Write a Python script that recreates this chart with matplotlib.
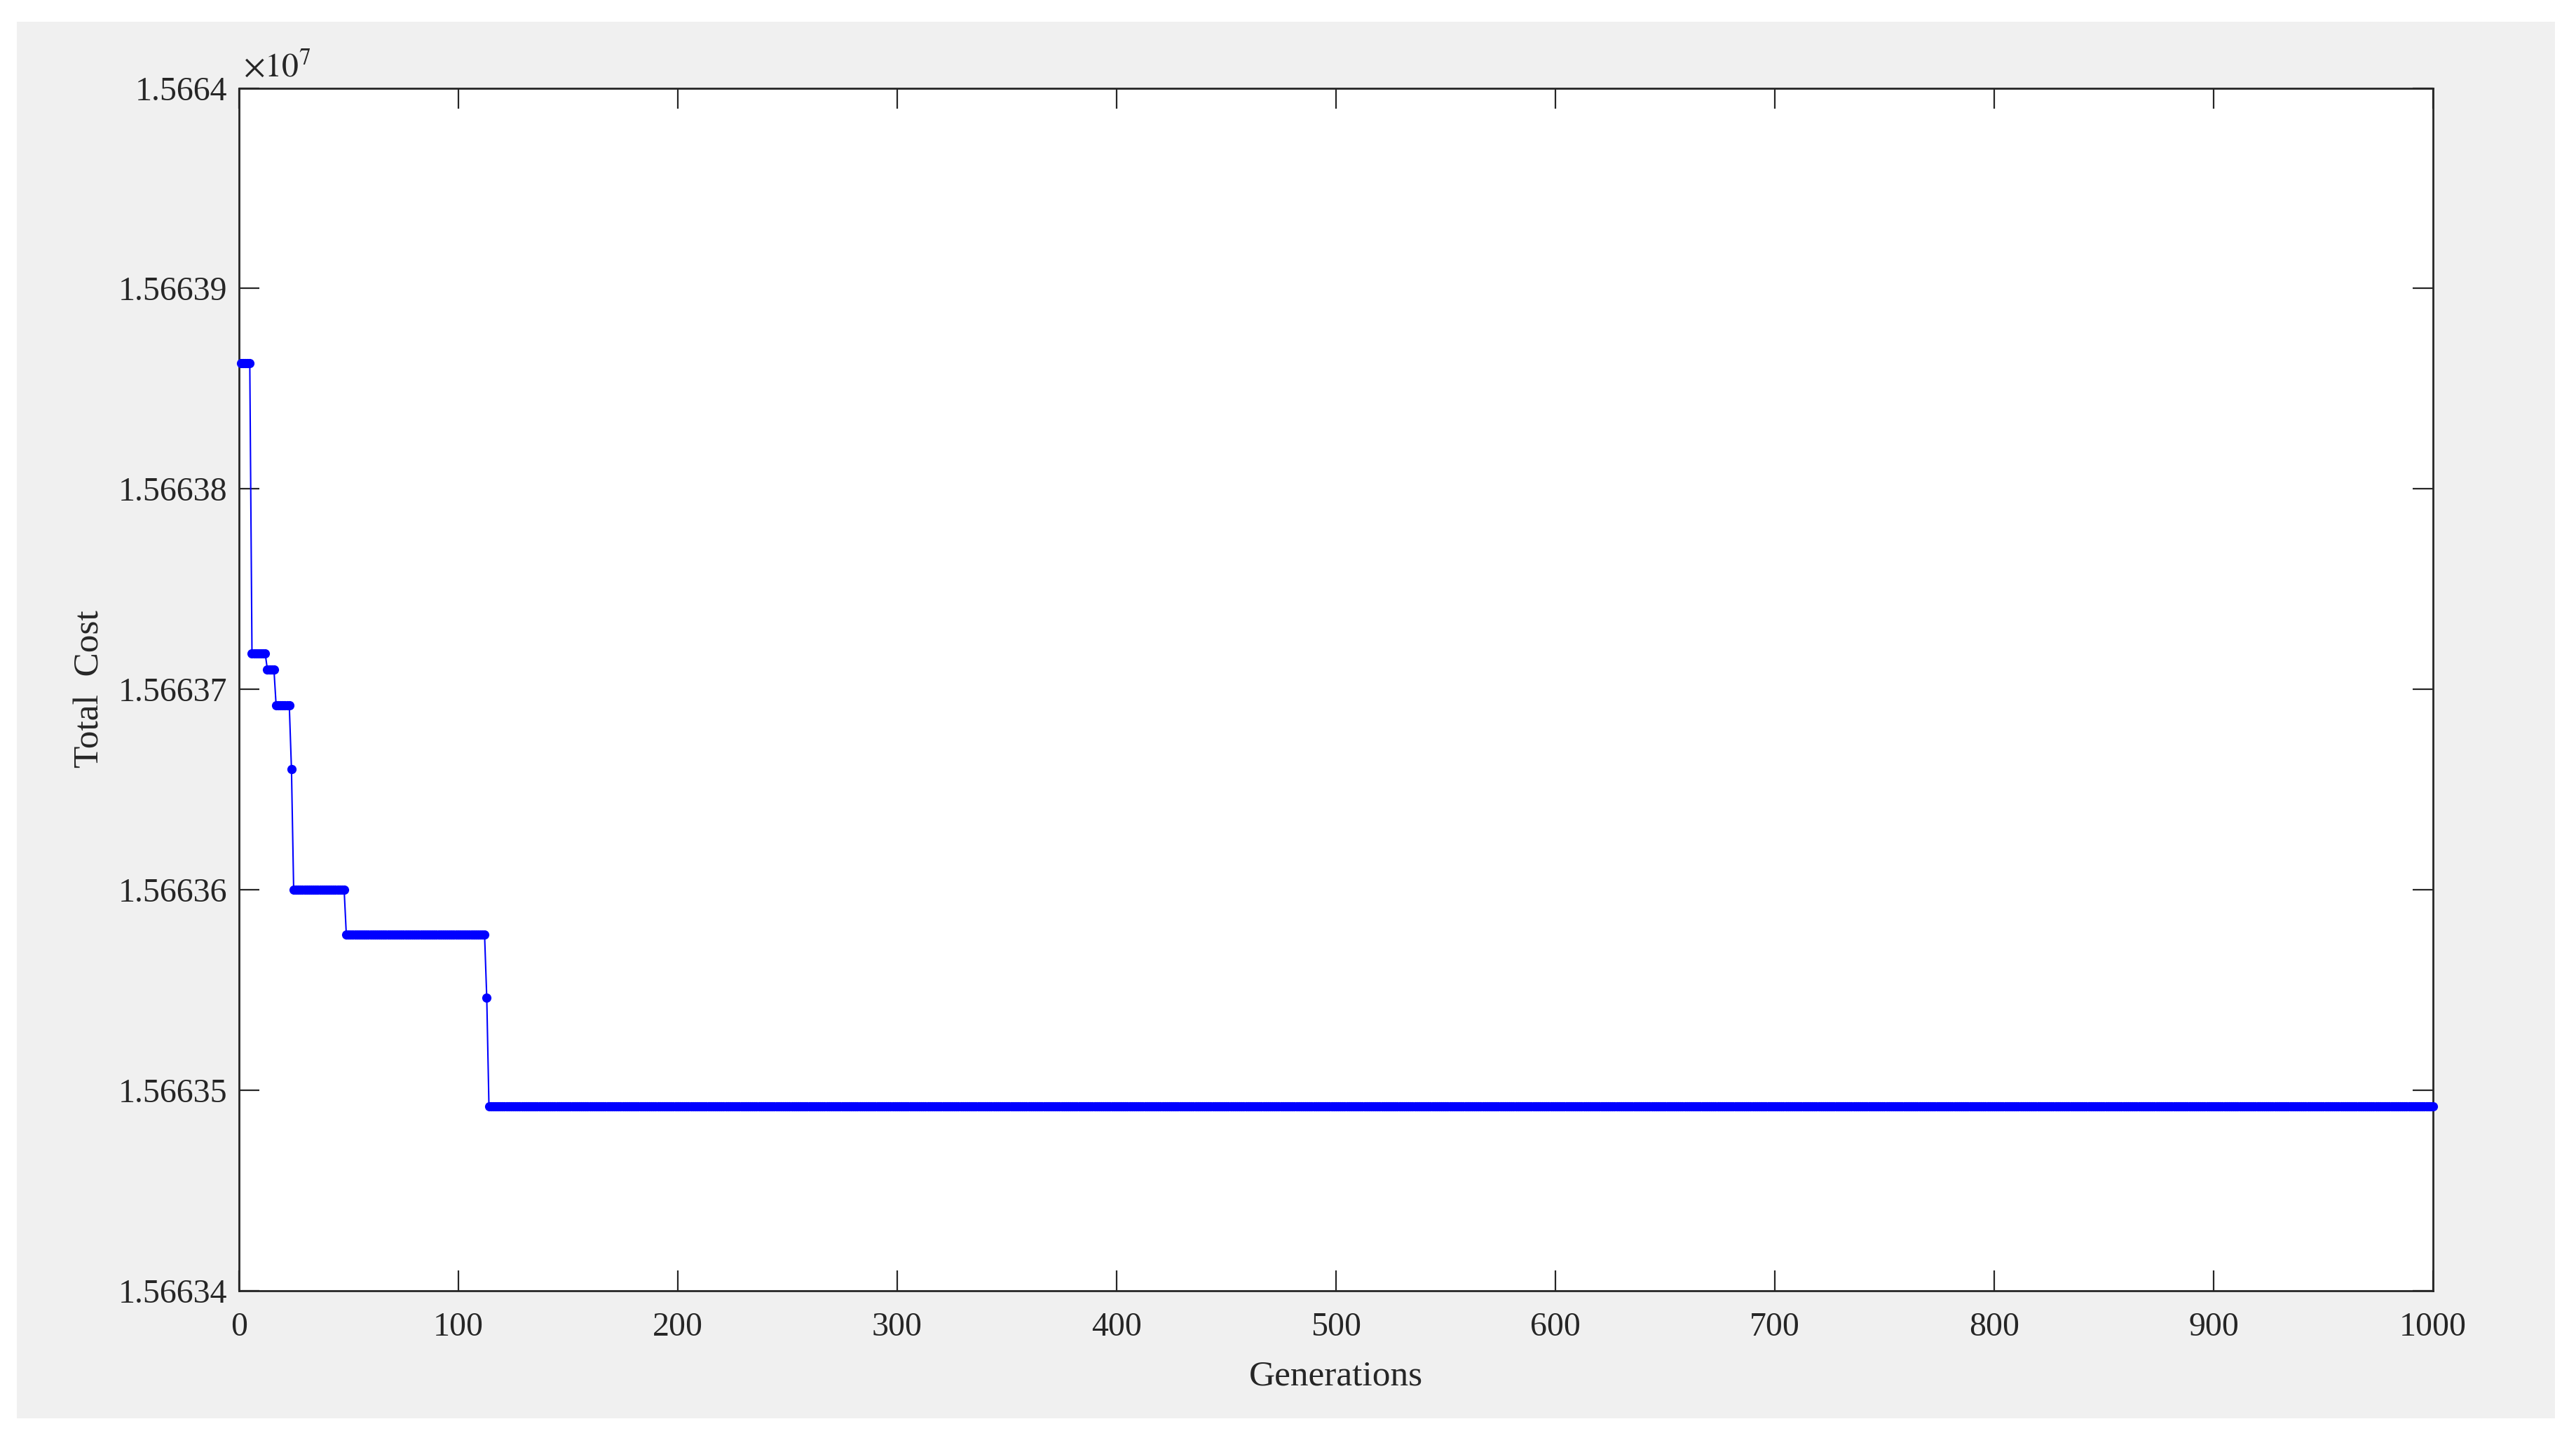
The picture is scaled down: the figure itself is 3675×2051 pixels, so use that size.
import numpy as np
import matplotlib.pyplot as plt
from matplotlib.patches import Rectangle

# DATA: best total cost per generation (a step curve)
# first generation of each plateau and its cost
gen_start = [1, 6, 13, 17, 24, 25, 49, 113, 114]
cost = [15663862.6, 15663718.0, 15663710.0, 15663692.0, 15663660.0,
        15663600.0, 15663577.5, 15663546.0, 15663492.0]
last_gen = 1000

x_ticks = [0, 100, 200, 300, 400, 500, 600, 700, 800, 900, 1000]
y_ticks = [15663400, 15663500, 15663600, 15663700, 15663800, 15663900, 15664000]
y_tick_labels = ['1.56634', '1.56635', '1.56636', '1.56637', '1.56638', '1.56639', '1.5664']

# one value per generation, each plateau repeated over its run
runs = np.diff(gen_start + [last_gen + 1])
gens = np.arange(1, last_gen + 1)
total_cost = np.repeat(cost, runs)

# STYLE (matlab look)
plt.rcParams['font.family'] = ['Liberation Serif', 'DejaVu Serif']
plt.rcParams['mathtext.fontset'] = 'stix'
dark = '#262626'

W, H = 3675, 2051
fig = plt.figure(figsize=(W / 100, H / 100), dpi=100, facecolor='white')
# grey figure panel inside a white margin
fig.patches.append(Rectangle((24 / W, 1 - 2023 / H), (3645 - 24) / W, (2023 - 31) / H,
                             transform=fig.transFigure, facecolor='#f0f0f0',
                             edgecolor='none', zorder=-1))

ax = fig.add_axes([340.7 / W, 1 - 1840.6 / H, (3471 - 340.7) / W, (1840.6 - 125.6) / H])
ax.set_facecolor('white')

ax.plot(gens, total_cost, color='blue', linewidth=1.5, marker='o', markersize=9.5,
        markeredgewidth=0, clip_on=False, zorder=3)

ax.set_xlim(0, 1000)
ax.set_ylim(15663400, 15664000)
ax.set_xticks(x_ticks)
ax.set_xticklabels([str(t) for t in x_ticks])
ax.set_yticks(y_ticks)
ax.set_yticklabels(y_tick_labels)

ax.tick_params(direction='in', length=21, width=1.6, top=True, right=True,
               labelsize=34.5, colors=dark)
ax.tick_params(axis='x', pad=22)
ax.tick_params(axis='y', pad=12)
for s in ax.spines.values():
    s.set_color(dark)
    s.set_linewidth(2)

ax.set_xlabel('Generations', fontsize=37, color=dark, labelpad=18)
ax.set_ylabel('Total  Cost', fontsize=37, color=dark, labelpad=12)

# exponent label like matlab
ax.text(0.002, 1.004, r'$\times 10^{7}$', transform=ax.transAxes, fontsize=34.5,
        color=dark, ha='left', va='bottom')

fig.savefig('out.png', dpi=100, facecolor='white')
